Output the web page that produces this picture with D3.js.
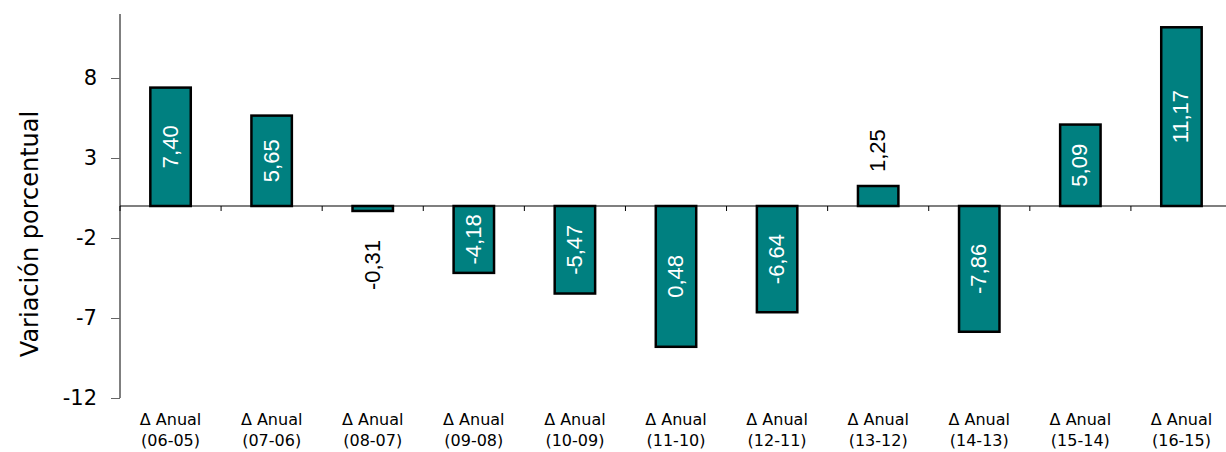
<!DOCTYPE html>
<html><head><meta charset="utf-8">
<script src="https://cdn.jsdelivr.net/npm/d3@7"></script>
<style>body{margin:0;background:#fff}svg{display:block}</style>
</head><body>
<svg id="c" width="1226" height="452"></svg>
<script>
const categories = ["(06-05)","(07-06)","(08-07)","(09-08)","(10-09)","(11-10)","(12-11)","(13-12)","(14-13)","(15-14)","(16-15)"];
const values = [7.40, 5.65, -0.31, -4.18, -5.47, -8.80, -6.64, 1.25, -7.86, 5.09, 11.17];
const valueLabels = ["7,40","5,65","-0,31","-4,18","-5,47","0,48","-6,64","1,25","-7,86","5,09","11,17"];
const yTicks = [-12, -7, -2, 3, 8];

const svg = d3.select("#c");
const font = "'DejaVu Sans', sans-serif";
const valFont = "'Liberation Sans', Arial, sans-serif";
const x = d3.scaleBand().domain(categories).range([120, 1232]).paddingInner(0.6).paddingOuter(0.3);
const y = d3.scaleLinear().domain([-12, 12]).range([398, 14]);

// y axis
const ya = svg.append("g").attr("transform", "translate(120,0)")
  .call(d3.axisLeft(y).tickValues(yTicks).tickSize(9).tickPadding(14).tickFormat(d => String(d)));
ya.select(".domain").attr("stroke", "#000").attr("d", `M0,${y(12)}V${y(-12)}`);
ya.selectAll(".tick line").attr("stroke", "#666");
ya.selectAll(".tick text").attr("font-family", font).attr("font-size", 21).attr("fill", "#000");

// bars
svg.append("g").selectAll("rect").data(values).join("rect")
  .attr("x", (d, i) => x(categories[i]))
  .attr("width", x.bandwidth())
  .attr("y", d => y(Math.max(0, d)))
  .attr("height", d => Math.abs(y(d) - y(0)))
  .attr("fill", "#008080").attr("stroke", "#000").attr("stroke-width", 2.5);

// zero line with category ticks
const xa = svg.append("g").attr("transform", `translate(0,${y(0)})`);
xa.append("line").attr("x1", 120).attr("x2", 1226).attr("stroke", "#000").attr("stroke-width", 1.2);
xa.selectAll("line.t").data(d3.range(categories.length)).join("line").attr("class", "t")
  .attr("x1", i => x(categories[i]) - x.bandwidth() * 0.75).attr("x2", i => x(categories[i]) - x.bandwidth() * 0.75)
  .attr("y1", 0).attr("y2", 5).attr("stroke", "#000");

// category labels
const cl = svg.append("g");
categories.forEach((c, i) => {
  const cx = x(c) + x.bandwidth() / 2;
  const t = cl.append("text").attr("x", cx).attr("text-anchor", "middle")
    .attr("font-family", font).attr("font-size", 16).attr("fill", "#000");
  t.append("tspan").attr("x", cx).attr("y", 425).text("\u0394 Anual");
  t.append("tspan").attr("x", cx).attr("y", 446).text(c);
});

// value labels
values.forEach((v, i) => {
  const cx = x(categories[i]) + x.bandwidth() / 2;
  const inside = Math.abs(v) > 2;
  let ty, anchor, fill;
  if (inside) { ty = (y(v) + y(0)) / 2; anchor = "middle"; fill = "#fff"; }
  else if (v >= 0) { ty = y(v) - 14; anchor = "start"; fill = "#000"; }
  else { ty = y(v) + 29; anchor = "end"; fill = "#000"; }
  svg.append("text").attr("transform", `translate(${cx + 7},${ty}) rotate(-90)`)
    .attr("text-anchor", anchor).attr("font-family", valFont).attr("font-size", 22)
    .attr("fill", fill).text(valueLabels[i]);
});

// y title
svg.append("text").attr("transform", "translate(38,234) rotate(-90)").attr("text-anchor", "middle")
  .attr("font-family", font).attr("font-size", 24).attr("fill", "#000").text("Variación porcentual");
</script>
</body></html>
